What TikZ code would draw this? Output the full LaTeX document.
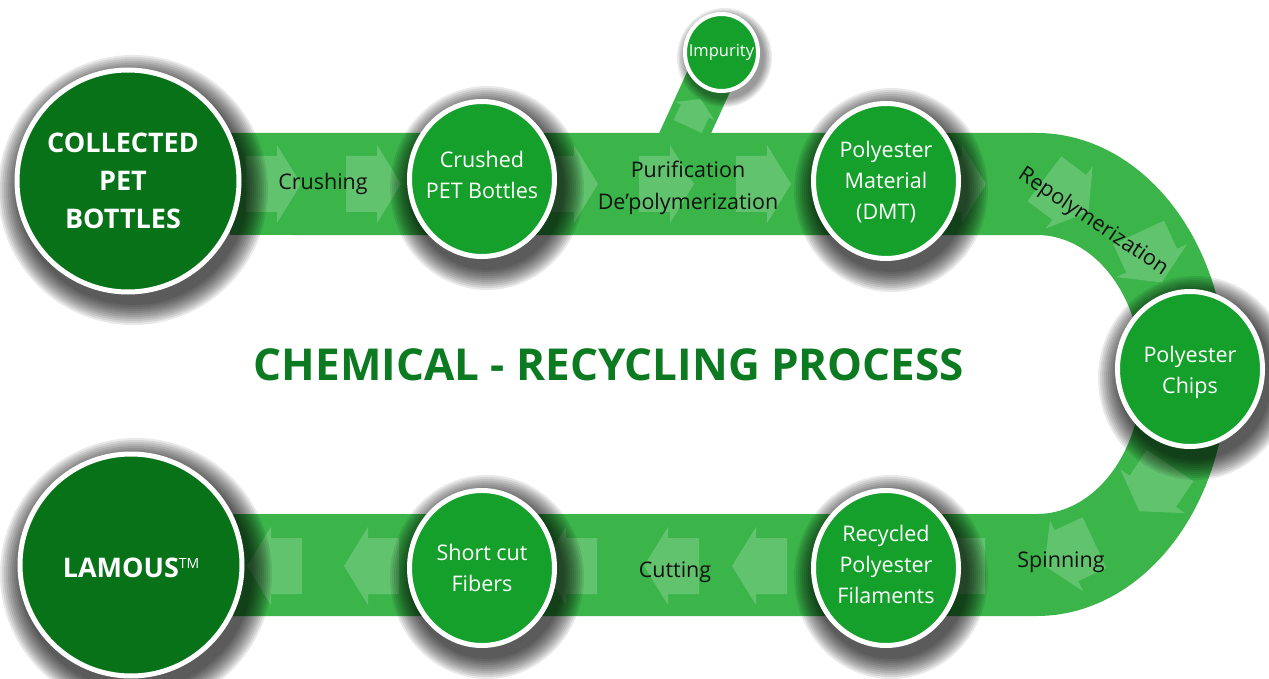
\documentclass[tikz,border=0pt]{standalone}
\usepackage{fontspec}
\setmainfont{Open Sans}
\usetikzlibrary{shapes.geometric,calc}
\definecolor{bandgreen}{RGB}{59,181,74}
\definecolor{darkdisc}{RGB}{8,114,25}
\definecolor{lightdisc}{RGB}{20,160,42}
\definecolor{titlegreen}{RGB}{12,122,32}
\definecolor{labelink}{RGB}{17,17,17}
\tikzset{
  bigdisc/.style={ellipse, fill=darkdisc, draw=white, line width=5pt, minimum width=222pt, minimum height=222pt, inner sep=0pt},
  smalldisc/.style={ellipse, fill=lightdisc, draw=white, line width=5pt, minimum width=145pt, minimum height=155pt, inner sep=0pt},
  tinydisc/.style={ellipse, fill=lightdisc, draw=white, line width=4pt, minimum width=73pt, minimum height=77pt, inner sep=0pt},
  bigtext/.style={text=white, align=center, inner sep=0pt, font=\fontsize{27}{38}\selectfont\bfseries},
  disctext/.style={text=white, align=center, inner sep=0pt, font=\fontsize{21.5}{31}\selectfont},
  tinytext/.style={text=white, inner sep=0pt, font=\fontsize{16.5}{20}\selectfont},
  steplabel/.style={text=labelink, align=center, inner sep=0pt, font=\fontsize{21.5}{32}\selectfont},
  titletext/.style={text=titlegreen, inner sep=0pt, font=\fontsize{44}{50}\selectfont\bfseries},
  bandarrow/.pic={\fill[white,opacity=0.2] (-27,-28) -- (4,-28) -- (4,-39) -- (28,0) -- (4,39) -- (4,28) -- (-27,28) -- cycle;},
}
\newcommand\discshadow[3]{\foreach \k in {1,...,11}{\fill[black,opacity=0.085] ($(#1)+(5,9)$) ellipse [x radius={#2pt+2pt*\k}, y radius={#3pt+2pt*\k}];}}
\begin{document}
\begin{tikzpicture}[x=1pt,y=-1pt]
\useasboundingbox (0,0) rectangle (1269,679);
\fill[white] (0,0) rectangle (1269,679);
% positions
\coordinate (pcollected) at (128,181);
\coordinate (pcrushed) at (482,179);
\coordinate (pimpurity) at (721.5,52.5);
\coordinate (pdmt) at (886,181);
\coordinate (pchips) at (1190,369);
\coordinate (pfil) at (886,568);
\coordinate (pshort) at (482,568);
\coordinate (plamous) at (131,565);
% band
\fill[bandgreen] (230,133) -- (1037,133)
  -- plot[domain=-90:90,samples=90] ({1037+190*cos(\x)},{374.5+241.5*sin(\x)})
  -- (230,616) -- (230,514) -- (1037,514)
  -- plot[domain=90:-90,samples=90] ({1037+105*cos(\x)},{374.5+139.5*sin(\x)})
  -- (230,235) -- cycle;
\fill[bandgreen] (656,140) -- (708,140) -- (750,48) -- (698,48) -- cycle;
% arrows in band
\foreach \ax in {273,373,570,666,763,958} {\pic at (\ax,184) {bandarrow};}
\foreach \ax in {275,372,570,672,760,958} {\pic[rotate=180] at (\ax,566) {bandarrow};}
\pic[rotate=-37] at (1066,195) {bandarrow};
\pic[rotate=-65] at (1150,257) {bandarrow};
\pic[rotate=-124] at (1155,488) {bandarrow};
\pic[rotate=-155] at (1070,554) {bandarrow};
\pic[rotate=65,scale=0.55] at (694,113) {bandarrow};
% shadows
\discshadow{pcollected}{113}{113}
\discshadow{plamous}{114}{114}
\discshadow{pcrushed}{75}{80}
\discshadow{pdmt}{75}{80}
\discshadow{pchips}{75}{80}
\discshadow{pfil}{75}{80}
\discshadow{pshort}{75}{80}
\foreach \k in {1,...,6}{\fill[black,opacity=0.08] ($(pimpurity)+(3,5)$) ellipse [x radius={38.5pt+1.5pt*\k}, y radius={40.5pt+1.5pt*\k}];}
% discs
\node[bigdisc] (collected) at (pcollected) {};
\node[bigdisc] (lamous) at (plamous) {};
\node[smalldisc] (crushed) at (pcrushed) {};
\node[smalldisc] (dmt) at (pdmt) {};
\node[smalldisc] (chips) at (pchips) {};
\node[smalldisc] (filaments) at (pfil) {};
\node[smalldisc] (shortcut) at (pshort) {};
\node[tinydisc] (impurity) at (pimpurity) {};
% disc texts
\node[bigtext] (collectedtext) at (123,181) {COLLECTED\\PET\\BOTTLES};
\node[bigtext, anchor=base] (lamoustext) at (131,577) {LAMOUS\raisebox{9pt}{\fontsize{14}{14}\selectfont\mdseries TM}};
\node[disctext] (crushedtext) at (482,175) {Crushed\\PET Bottles};
\node[disctext] (dmttext) at (886,182) {Polyester\\Material\\(DMT)};
\node[disctext] (chipstext) at (1190,372) {Polyester\\Chips};
\node[disctext] (filtext) at (886,564) {Recycled\\Polyester\\Filaments};
\node[disctext] (shorttext) at (482,568) {Short cut\\Fibers};
\node[tinytext] (impuritytext) at (721.5,52) {Impurity};
% step labels
\node[steplabel, anchor=base] (crushing) at (323,190) {Crushing};
\node[steplabel] (purif) at (688,188) {Purification\\De’polymerization};
\node[steplabel, rotate=-34] (repol) at (1093,222) {Repolymerization};
\node[steplabel, anchor=base] (spinning) at (1061,567) {Spinning};
\node[steplabel, anchor=base] (cutting) at (675,577) {Cutting};
% title
\node[titletext, anchor=base] (title) at (609,380) {CHEMICAL - RECYCLING PROCESS};
\end{tikzpicture}
\end{document}
